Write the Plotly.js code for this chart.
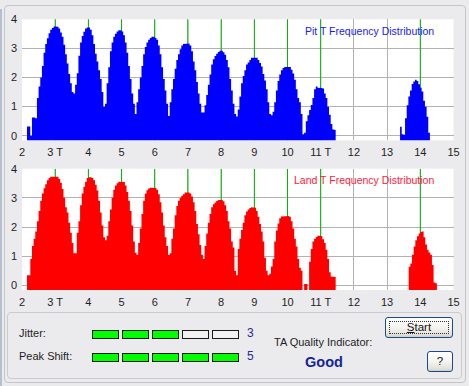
<!DOCTYPE html>
<html>
<head>
<meta charset="utf-8">
<script src="https://cdn.plot.ly/plotly-3.0.1.min.js"></script>
<style>
  html, body { margin:0; padding:0; }
  body { width:469px; height:386px; background:#ebebee; position:relative; overflow:hidden;
         font-family:"Liberation Sans", Arial, sans-serif; font-size:11px; color:#1e1e1e; }
  #chart { position:absolute; left:0; top:0; width:469px; height:386px; }
  .frame { position:absolute; border:1px solid #c6c6ca; border-radius:4px; box-sizing:border-box; }
  .lbl { position:absolute; line-height:13px; white-space:nowrap; }
  .btn { position:absolute; box-sizing:border-box; border:1px solid #1c4a86; border-radius:3px;
         background:linear-gradient(#ffffff 0%, #f4f4f0 50%, #e4e2dc 85%, #d2cec4 100%);
         text-align:center; color:#111; font-size:11.5px; }
</style>
</head>
<body>
<div class="frame" style="left:4px;top:5px;width:462px;height:378px;"></div>
<div style="position:absolute;left:0;top:9px;width:2px;height:377px;background:#b4c0d0;"></div>
<div class="frame" style="left:7px;top:312px;width:455px;height:67px;border-color:#cbcbcf;"></div>
<div id="chart"></div>
<div id="panel"></div>
<script>
// ---- Data ----
const tickVals = [2,3,4,5,6,7,8,9,10,11,12,13,14,15];
const tickText = ["2","3 T","4","5","6","7","8","9","10","11 T","12","13","14","15"];
const idealT = [3,4,5,6,7,8,9,10,11,14];

// Pit T histogram, bins of 0.05 T, first bin centred at 2.175
const pitMainStart = 2.175;
const pitMain = [
  0.32,0.32,0,0.63,0.63,0.6,1.3,1.69,2.0,2.4,2.85,3.15,3.35,3.52,3.64,3.7,3.75,3.75,3.74,3.68,
  3.55,3.4,3.13,2.8,2.48,2.12,1.8,1.5,1.45,1.75,2.15,2.75,3.2,3.43,3.57,3.68,3.72,3.72,3.64,3.45,
  3.15,2.82,2.55,2.25,1.95,1.5,1.0,1.1,1.8,2.35,2.9,3.2,3.4,3.5,3.58,3.62,3.62,3.58,3.45,3.2,
  2.85,2.4,1.95,1.45,1.1,0.75,1.15,1.6,2.0,2.4,2.8,3.05,3.2,3.3,3.36,3.4,3.4,3.36,3.3,3.1,
  2.8,2.35,1.95,1.55,1.1,0.68,1.15,1.6,1.95,2.3,2.6,2.8,2.97,3.1,3.15,3.17,3.17,3.17,3.1,2.9,
  2.55,2.25,1.85,1.45,1.1,0.8,0.8,1.05,1.4,1.75,2.1,2.45,2.63,2.74,2.82,2.88,2.92,2.92,2.87,2.78,
  2.6,2.35,1.95,1.55,1.1,0.75,0.66,0.9,1.35,1.8,2.05,2.25,2.45,2.52,2.6,2.68,2.7,2.7,2.68,2.6,
  2.5,2.38,2.12,1.9,1.6,1.15,0.75,0.7,0.82,1.15,1.55,1.88,2.1,2.25,2.33,2.36,2.38,2.38,2.36,2.27,
  2.14,1.92,1.6,1.3,1.15,0.75,0.05,0.1,0.5,0.7,0.88,1.06,1.3,1.6,1.69,1.65,1.64,1.64,1.62,1.45,
  1.3,1.0,0.72,0.4,0.22,0.2
];
const pit14Start = 13.415;
const pit14 = [0.31,0.05,0.03,0.6,1.05,1.35,1.55,1.78,1.86,1.92,1.88,1.77,1.65,1.52,1.2,1.0,0.65,0.1];

// Land T histogram, bins of 0.05 T, first bin centred at 2.175
const landMainStart = 2.175;
const landMain = [
  0.35,0.35,0.9,1.35,1.6,1.85,2.2,2.55,2.9,3.15,3.33,3.47,3.6,3.68,3.72,3.73,3.73,3.73,3.72,3.65,
  3.52,3.3,3.0,2.68,2.5,2.15,1.8,1.45,1.1,1.1,1.8,2.2,2.75,3.15,3.38,3.55,3.68,3.71,3.71,3.68,
  3.6,3.45,3.25,2.9,2.5,2.05,1.65,1.55,1.7,2.2,2.6,3.0,3.28,3.42,3.5,3.55,3.56,3.56,3.54,3.42,
  3.2,2.9,2.55,2.05,1.5,1.12,1.05,1.45,1.95,2.45,2.9,3.15,3.26,3.32,3.35,3.36,3.36,3.34,3.28,3.12,
  2.85,2.5,2.05,1.65,1.35,1.04,1.1,1.6,1.95,2.4,2.72,2.9,3.0,3.07,3.12,3.18,3.18,3.18,3.15,3.05,
  2.85,2.55,2.1,1.75,1.38,1.05,0.9,1.35,1.78,2.15,2.45,2.68,2.78,2.84,2.89,2.93,2.93,2.93,2.88,2.75,
  2.55,2.2,1.95,1.5,1.3,0.5,0.35,1.25,1.6,1.9,2.15,2.4,2.53,2.6,2.65,2.68,2.68,2.66,2.55,2.35,
  2.1,1.85,1.5,0.95,0.5,0.35,0.4,0.65,0.9,1.5,1.88,2.12,2.3,2.36,2.38,2.38,2.38,2.38,2.35,2.2,
  1.95,1.6,1.33,0.9,0.6,0.5,null,0.05,0.05,null,0.81,1.25,1.5,1.6,1.66,1.7,1.7,1.68,1.58,1.45,
  1.22,0.9,0.45,0.3,0.29,0.29
];
const land14Start = 13.675;
const land14 = [0.64,0.75,1.05,1.33,1.55,1.68,1.78,1.84,1.85,1.65,1.4,1.22,1.13,1.05,0.7,0.1,0.07];

const binWidth = 0.05;
const yBottom = -0.16;

// Bottom panel indicators
const jitterLevel = 3;
const peakShiftLevel = 5;
const levelCount = 5;
const qualityText = "Good";

// ---- Build histogram traces: each run of bins becomes one filled step outline ----
function histTraces(start, vals, color, xa, ya){
  const out = [];
  let run = null;
  const flush = () => {
    if (run && run.x.length){
      run.x.push(run.x[run.x.length-1]); run.y.push(yBottom);
      run.x.push(run.x[0]); run.y.push(yBottom);
      out.push({type:'scatter', mode:'lines', x:run.x, y:run.y, fill:'toself', fillcolor:color,
                line:{width:0, color:color}, xaxis:xa, yaxis:ya, hoverinfo:'skip'});
    }
    run = null;
  };
  vals.forEach((v, i) => {
    if (v === null){ flush(); return; }
    const left = start + (i - 0.5) * binWidth, right = start + (i + 0.5) * binWidth;
    if (!run){ run = {x:[left], y:[yBottom]}; }
    run.x.push(left, right); run.y.push(v, v);
  });
  flush();
  return out;
}
const traces = [].concat(
  histTraces(pitMainStart, pitMain, '#0000ff', 'x', 'y'),
  histTraces(pit14Start, pit14, '#0000ff', 'x', 'y'),
  histTraces(landMainStart, landMain, '#ff0000', 'x2', 'y2'),
  histTraces(land14Start, land14, '#ff0000', 'x2', 'y2')
);

const shapes = [];
idealT.forEach(t => {
  shapes.push({type:'line', xref:'x', yref:'y', x0:t, x1:t, y0:yBottom, y1:4, layer:'between',
               line:{color:'#00b400', width:1}});
  shapes.push({type:'line', xref:'x2', yref:'y2', x0:t, x1:t, y0:yBottom, y1:4, layer:'between',
               line:{color:'#00b400', width:1}});
});

const W = 469, H = 386;
const tickFont = {family:'"Liberation Sans", Arial, sans-serif', size:11, color:'#1e1e1e'};
function xAxis(anchor){
  return { domain:[22/W, 453.5/W], range:[2,15], anchor:anchor, tickmode:'array', tickvals:tickVals,
           ticktext:tickText, showgrid:true, gridcolor:'#b2b2b2', gridwidth:1, zeroline:false,
           ticks:'', showline:false, tickfont:tickFont, fixedrange:true, ticklabelstandoff:4 };
}
function yAxis(anchor, top, bottom){
  return { domain:[1-bottom/H, 1-top/H], range:[yBottom,4], anchor:anchor, tickmode:'array',
           tickvals:[0,1,2,3,4], showgrid:true, gridcolor:'#b2b2b2', gridwidth:1, zeroline:false,
           ticks:'', showline:false, tickfont:tickFont, fixedrange:true, ticklabelstandoff:4 };
}

const layout = {
  width:W, height:H, margin:{l:0,r:0,t:0,b:0,pad:0},
  paper_bgcolor:'rgba(0,0,0,0)', plot_bgcolor:'#ffffff',
  showlegend:false,
  xaxis:xAxis('y'), yaxis:yAxis('x', 19.3, 140.4),
  xaxis2:xAxis('y2'), yaxis2:yAxis('x2', 168.7, 290),
  shapes:shapes,
  annotations:[
    {text:'Pit T Frequency Distribution', xref:'paper', yref:'paper', x:436/W, y:1-31/H,
     xanchor:'right', yanchor:'middle', showarrow:false,
     font:{family:'"Liberation Sans", Arial, sans-serif', size:10.5, color:'#1a1aff'}},
    {text:'Land T Frequency Distribution', xref:'paper', yref:'paper', x:436/W, y:1-180/H,
     xanchor:'right', yanchor:'middle', showarrow:false,
     font:{family:'"Liberation Sans", Arial, sans-serif', size:10.5, color:'#ff1a3a'}}
  ]
};

Plotly.newPlot('chart', traces, layout, {staticPlot:true, displayModeBar:false});

// ---- Bottom panel (widgets) ----
const panel = document.getElementById('panel');
function addLabel(text, left, top, extra){
  const d = document.createElement('div');
  d.className = 'lbl'; d.textContent = text;
  d.style.left = left + 'px'; d.style.top = top + 'px';
  if (extra) Object.assign(d.style, extra);
  panel.appendChild(d); return d;
}
function addRow(label, level, top){
  addLabel(label, 19, top - 3);
  const row = document.createElement('div');
  row.style.cssText = 'position:absolute;left:92px;top:'+top+'px;display:flex;gap:3px;';
  for (let i = 0; i < levelCount; i++){
    const b = document.createElement('div');
    b.style.cssText = 'width:27px;height:9px;border:1px solid #1a1a1a;box-sizing:border-box;background:' +
      (i < level ? '#00ff00' : '#f2f2f2') + ';';
    row.appendChild(b);
  }
  panel.appendChild(row);
  addLabel(String(level), 247, top - 3, {color:'#2a2a9a', fontSize:'12px'});
}
addRow('Jitter:', jitterLevel, 330);
addRow('Peak Shift:', peakShiftLevel, 353);
addLabel('TA Quality Indicator:', 274, 336);
addLabel(qualityText, 305, 354, {fontWeight:'bold', fontSize:'14.5px', lineHeight:'16px', color:'#14249a'});

const start = document.createElement('div');
start.className = 'btn';
start.style.cssText = 'left:385px;top:317px;width:68px;height:21px;line-height:19px;';
start.innerHTML = '<div style="position:absolute;left:3px;top:3px;right:3px;bottom:3px;border:1px dotted #333;"></div><span><u>S</u>tart</span>';
panel.appendChild(start);
const help = document.createElement('div');
help.className = 'btn';
help.style.cssText = 'left:427px;top:351px;width:26px;height:21px;line-height:19px;';
help.textContent = '?';
panel.appendChild(help);
</script>
</body>
</html>
